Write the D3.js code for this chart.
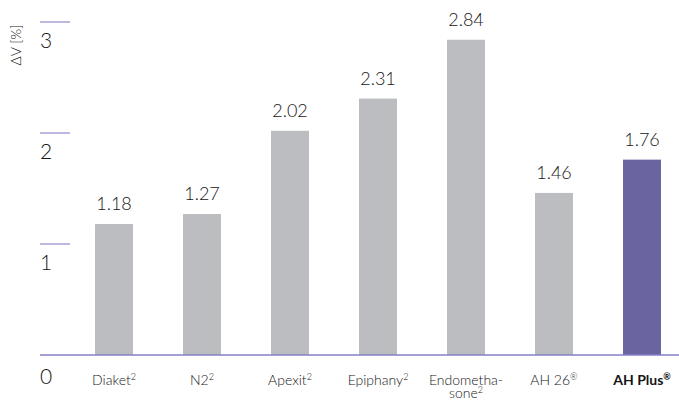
<!DOCTYPE html>
<html>
<head>
<meta charset="utf-8">
<script src="https://cdn.jsdelivr.net/npm/d3@7"></script>
<style>
  body { margin: 0; background: #fff; }
  text { font-family: Lato, "Open Sans", sans-serif; fill: #151515; }
</style>
</head>
<body>
<div id="chart"></div>
<script>
// data
const materials = ["Diaket", "N2", "Apexit", "Epiphany", "Endometha-|sone", "AH 26", "AH Plus"];
const marks = ["2", "2", "2", "2", "2", "®", "®"];
const values = [1.18, 1.27, 2.02, 2.31, 2.84, 1.46, 1.76];
const yTicks = [0, 1, 2, 3];

const width = 679;
const height = 400;
const svg = d3.select("#chart")
  .append("svg")
  .attr("width", width)
  .attr("height", height);

// scales
const x = d3.scalePoint()
  .domain(materials)
  .range([114, 642]);
const y = d3.scaleLinear()
  .domain([0, 3])
  .range([355, 22]);
const barW = 38;

// tick marks on the left + labels below them
yTicks.filter(d => d > 0).forEach(t => {
  svg.append("line")
    .attr("x1", 40).attr("x2", 70)
    .attr("y1", y(t)).attr("y2", y(t))
    .attr("stroke", "#8f8acb")
    .attr("stroke-width", 1.2);
});
svg.selectAll(".ytick")
  .data(yTicks)
  .enter().append("text")
  .attr("class", "ytick")
  .attr("x", 40)
  .attr("y", d => y(d) + (d === 0 ? 29 : 26))
  .style("font-size", "21px")
  .style("font-weight", 300)
  .text(d => d);

// axis title
svg.append("text")
  .attr("transform", "rotate(-90)")
  .attr("x", -45)
  .attr("y", 21)
  .attr("text-anchor", "middle")
  .style("font-size", "14px")
  .style("font-weight", 300)
  .text("ΔV [%]");

// bars
svg.selectAll(".bar")
  .data(values)
  .enter().append("rect")
  .attr("class", "bar")
  .attr("x", (d, i) => x(materials[i]) - barW / 2)
  .attr("y", d => y(d))
  .attr("width", barW)
  .attr("height", d => y(0) - y(d))
  .attr("fill", (d, i) => i === materials.length - 1 ? "#6a64a0" : "#bcbdc0");

// value labels
svg.selectAll(".val")
  .data(values)
  .enter().append("text")
  .attr("class", "val")
  .attr("x", (d, i) => x(materials[i]))
  .attr("y", d => y(d) - 14)
  .attr("text-anchor", "middle")
  .style("font-size", "18px")
  .style("font-weight", 300)
  .text(d => d.toFixed(2));

// baseline
svg.append("line")
  .attr("x1", 40).attr("x2", width)
  .attr("y1", y(0)).attr("y2", y(0))
  .attr("stroke", "#8580c4")
  .attr("stroke-width", 1.5);

// category labels with superscripts
materials.forEach((m, i) => {
  const lines = m.split("|");
  const bold = i === materials.length - 1;
  lines.forEach((ln, j) => {
    const t = svg.append("text")
      .attr("x", x(m))
      .attr("y", 385 + j * 13)
      .attr("text-anchor", "middle")
      .style("font-size", "14px")
      .style("font-weight", bold ? "bold" : 300);
    t.append("tspan").text(ln);
    if (j === lines.length - 1) {
      t.append("tspan")
        .attr("dy", -5)
        .style("font-size", "9px")
        .text(marks[i]);
    }
  });
});
</script>
</body>
</html>
